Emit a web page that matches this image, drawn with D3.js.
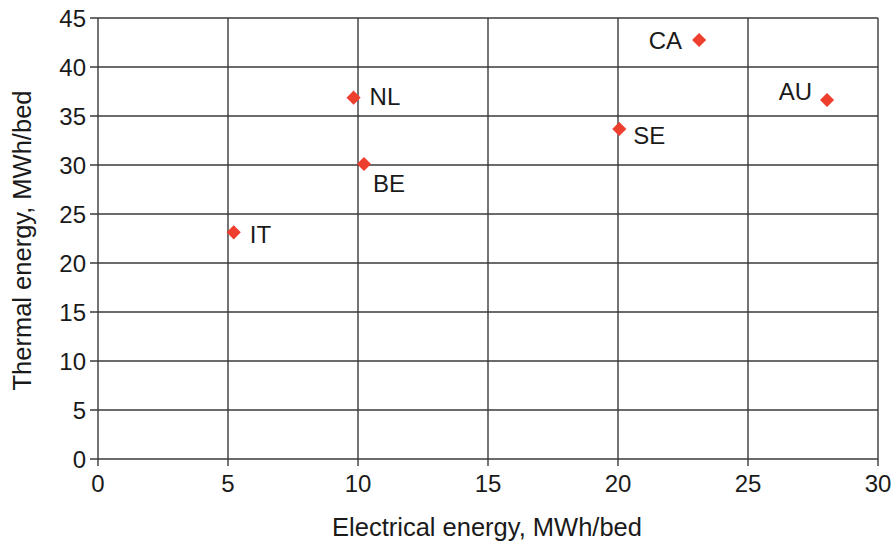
<!DOCTYPE html>
<html><head><meta charset="utf-8">
<script src="https://cdn.jsdelivr.net/npm/d3@7"></script>
<style>
html,body{margin:0;padding:0;background:#fff;}
text{font-family:"Liberation Sans",Arial,sans-serif;fill:#1a1a1a;}
</style></head>
<body><svg id="c" width="896" height="544"></svg>
<script>
const countries = ["IT","NL","BE","SE","CA","AU"];
const electrical = [5.22, 9.83, 10.23, 20.05, 23.12, 28.04];
const thermal = [23.13, 36.87, 30.1, 33.67, 42.76, 36.63];
const xTicks = [0,5,10,15,20,25,30];
const yTicks = [0,5,10,15,20,25,30,35,40,45];
const xTitle = "Electrical energy, MWh/bed";
const yTitle = "Thermal energy, MWh/bed";

// label placement (layout only)
const labelOffsets = {
  IT:[16,11,"start"], NL:[16,7,"start"], BE:[9,28,"start"],
  SE:[14,15,"start"], CA:[-17,9,"end"], AU:[-15,0,"end"]
};

const svg = d3.select("#c");
const m = {l:98, r:878, t:18, b:459};
const x = d3.scaleLinear().domain([0,30]).range([m.l,m.r]);
const y = d3.scaleLinear().domain([0,45]).range([m.b,m.t]);
const gridColor = "#3a3a3a";

svg.append("g").selectAll("line").data(xTicks).join("line")
  .attr("x1",d=>x(d)).attr("x2",d=>x(d)).attr("y1",m.t).attr("y2",m.b+7)
  .attr("stroke",gridColor).attr("stroke-width",1.4);
svg.append("g").selectAll("line").data(yTicks).join("line")
  .attr("y1",d=>y(d)).attr("y2",d=>y(d)).attr("x1",m.l-8).attr("x2",m.r)
  .attr("stroke",gridColor).attr("stroke-width",1.4);

svg.append("g").selectAll("text").data(xTicks).join("text")
  .attr("x",d=>x(d)).attr("y",m.b+33).attr("text-anchor","middle")
  .style("font-size","24px").text(d=>d);
svg.append("g").selectAll("text").data(yTicks).join("text")
  .attr("x",m.l-12).attr("y",d=>y(d)+9).attr("text-anchor","end")
  .style("font-size","24px").text(d=>d);

svg.append("text").attr("x",(m.l+m.r)/2-1).attr("y",536).attr("text-anchor","middle")
  .style("font-size","25.5px").text(xTitle);
svg.append("text").attr("transform",`translate(31,${(m.t+m.b)/2+2}) rotate(-90)`)
  .attr("text-anchor","middle").style("font-size","25.5px").text(yTitle);

const data = countries.map((c,i)=>({c, e:electrical[i], t:thermal[i]}));
const diamond = d3.symbol().type(d3.symbolSquare).size(100);
svg.append("g").selectAll("path").data(data).join("path")
  .attr("d",diamond)
  .attr("transform",d=>`translate(${x(d.e)},${y(d.t)}) rotate(45)`)
  .attr("fill","#ee3e2e");

svg.append("g").selectAll("text").data(data).join("text")
  .attr("x",d=>x(d.e)+labelOffsets[d.c][0]).attr("y",d=>y(d.t)+labelOffsets[d.c][1])
  .attr("text-anchor",d=>labelOffsets[d.c][2]).style("font-size","24px").text(d=>d.c);
</script></body></html>
